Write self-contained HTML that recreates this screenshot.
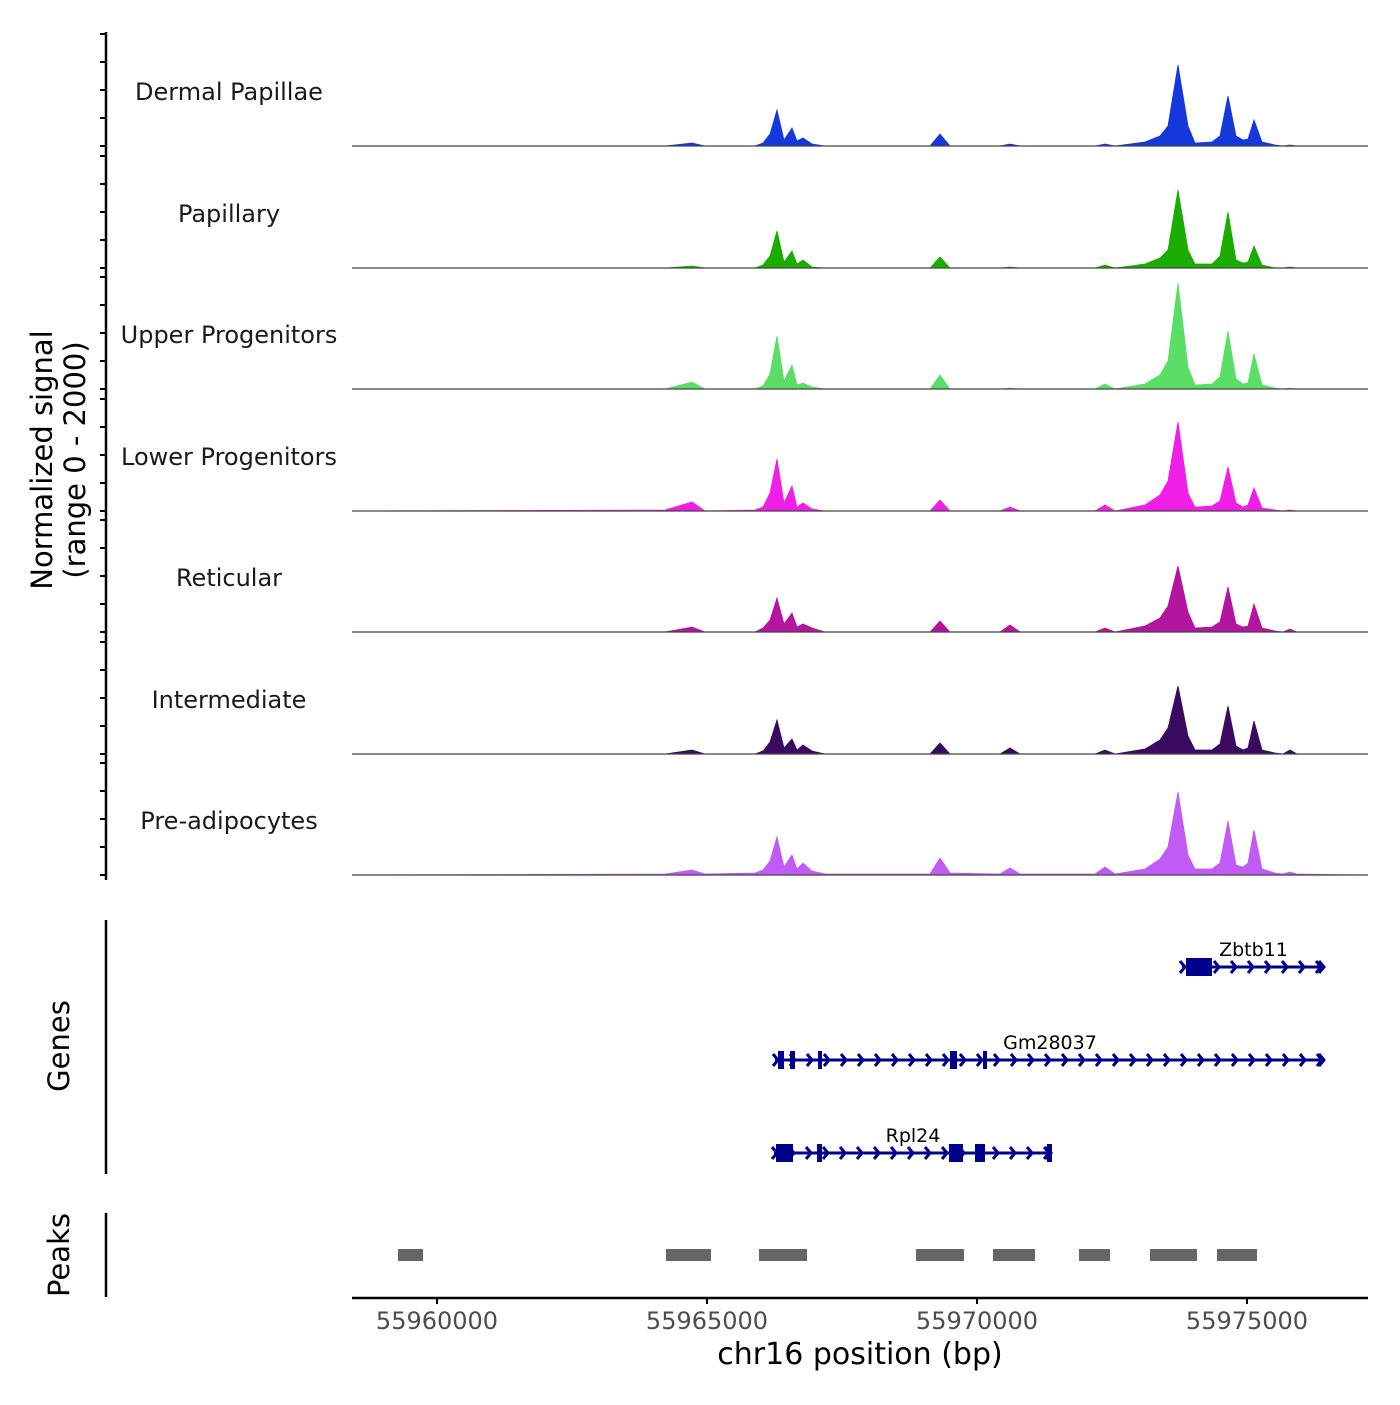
<!DOCTYPE html>
<html><head><meta charset="utf-8"><style>
body{margin:0;background:#fff;}
svg text{font-family:"DejaVu Sans","Liberation Sans",sans-serif;}
</style></head><body>
<svg id="chart" width="1400" height="1400" xmlns="http://www.w3.org/2000/svg">
<g id="axes"></g>
<g id="tracks"></g>
<g id="genes"></g>
<g id="peaks"></g>
</svg>
<script>
const trackNames = ["Dermal Papillae","Papillary","Upper Progenitors","Lower Progenitors","Reticular","Intermediate","Pre-adipocytes"];
const trackColors = ["#1438dc","#1aad00","#5ade66","#f01ee6","#b4159f","#3a0a60","#c05cf5"];
const positions = [55958426,55964222,55964722,55964963,55965889,55966037,55966167,55966296,55966426,55966574,55966667,55966778,55966944,55967185,55969130,55969315,55969500,55970426,55970611,55970796,55972185,55972370,55972556,55973111,55973389,55973537,55973722,55973907,55974037,55974352,55974500,55974648,55974796,55974926,55975019,55975130,55975278,55975519,55975667,55975796,55975926,55977241];
const sigDermal = [0,0,3,0,0,3,12,36,6,18,5,8,2,0,0,12,0,0,2,0,0,2,0,4,10,20,81,20,3,4,10,50,10,6,7,26,4,1,0,1,0,0];
const sigPapillary = [0,0,2,0,0,3,12,37,6,17,4,8,1,0,0,11,0,0,1,0,0,3,0,4,10,18,78,18,4,4,12,56,8,5,6,22,3,0,0,1,0,0];
const sigUpper = [0,0,7,0,0,3,15,53,8,24,4,6,2,0,0,14,0,0,1,0,0,5,0,5,14,28,106,22,4,5,12,58,10,5,6,35,4,1,0,1,0,0];
const sigLower = [0,1,9,0,1,4,18,52,8,25,4,8,2,0,0,11,0,0,4,0,0,6,0,6,16,30,89,18,4,5,10,44,8,4,6,23,3,1,0,1,0,0];
const sigReticular = [0,0,5,0,0,4,12,34,8,19,5,8,4,0,0,11,0,0,7,0,0,4,0,6,14,26,66,20,4,5,10,45,8,5,6,28,4,1,0,3,0,0];
const sigIntermediate = [0,0,4,0,0,3,12,34,6,15,4,9,3,0,0,11,0,0,6,0,0,4,0,5,14,26,68,18,4,4,10,48,8,4,6,33,4,1,0,4,0,0];
const sigPreadipo = [0,1,5,1,2,5,14,38,8,20,6,12,4,1,1,17,2,1,7,1,1,8,1,6,16,28,83,20,6,6,12,54,10,8,12,45,6,2,1,3,1,0];
const xTicks = [55960000,55965000,55970000,55975000];
const geneNames = ["Zbtb11","Gm28037","Rpl24"];
const geneStarts = [55973796,55966259,55966241];
const geneEnds = [55976444,55976444,55971389];
const geneExons = [
  [[55973870,55974352]],
  [[55966315,55966426],[55966537,55966630],[55967056,55967130],[55969500,55969630],[55970111,55970148]],
  [[55966278,55966593],[55967037,55967130],[55969481,55969741],[55969963,55970148],[55971296,55971389]]
];
const peakStarts = [55959278,55964241,55965963,55968870,55970296,55971889,55973204,55974444];
const peakEnds = [55959741,55965074,55966852,55969759,55971074,55972463,55974074,55975185];

const NS="http://www.w3.org/2000/svg";
function mk(tag,attrs,parent){const e=document.createElementNS(NS,tag);for(const k in attrs)e.setAttribute(k,attrs[k]);parent.appendChild(e);return e;}
const xs = bp => 437 + (bp-55960000)*0.054;
const yMax = 112;
const baselines = [146,268,389,511,632,754,875];
const series = [sigDermal,sigPapillary,sigUpper,sigLower,sigReticular,sigIntermediate,sigPreadipo];
const ax = document.getElementById('axes'), tr=document.getElementById('tracks');

let l=mk('line',{x1:106,y1:32,x2:106,y2:880,stroke:'#000','stroke-width':2.5},ax);


baselines.forEach((b,i)=>{
  for(let k=0;k<5;k++){const t=mk('line',{x1:100,x2:106,y1:b-28*k,y2:b-28*k,stroke:'#000','stroke-width':2},ax);
    
    }
  const ys = v => b - v/yMax*112;
  let d='M'+xs(positions[0])+','+b;
  series[i].forEach((v,j)=>{d+=' L'+xs(positions[j]).toFixed(1)+','+ys(v).toFixed(1);});
  d+=' L'+xs(positions[positions.length-1])+','+b+' Z';
  const p=mk('path',{d:d,fill:trackColors[i],stroke:trackColors[i],'stroke-width':0.8},tr);
  
  
  const bl=mk('line',{x1:352,x2:1368,y1:b,y2:b,stroke:'#444','stroke-width':1.2},tr);
  
  
  const tx=mk('text',{x:229,y:b-46,'text-anchor':'middle','font-size':24,fill:'#1a1a1a'},tr);
  tx.textContent=trackNames[i];
  
  
});
const yt=mk('text',{transform:'translate(52,460) rotate(-90)','text-anchor':'middle','font-size':29,fill:'#000'},ax);
yt.innerHTML='<tspan x="0" dy="0">Normalized signal</tspan><tspan x="0" dy="33">(range 0 - 2000)</tspan>';



const g=document.getElementById('genes');
let ga=mk('line',{x1:106,y1:920,x2:106,y2:1174,stroke:'#000','stroke-width':2.5},g);


let gt=mk('text',{transform:'translate(69,1046) rotate(-90)','text-anchor':'middle','font-size':29},g);
gt.textContent='Genes';


const rowsY=[967,1060,1153];
const gc='#00008b';
geneNames.forEach((n,i)=>{
  const y=rowsY[i], x1=xs(geneStarts[i]), x2=xs(geneEnds[i]);
  const grp=mk('g',{},g);
  
  
  mk('line',{x1:x1,x2:x2,y1:y,y2:y,stroke:gc,'stroke-width':3},grp);
  let d='';
  for(let x=x1+3;x<=x2-2;x+=17){d+='M'+(x-5)+','+(y-6)+' L'+x+','+y+' L'+(x-5)+','+(y+6)+' ';}
  d+='M'+(x2-6)+','+(y-6)+' L'+(x2-1)+','+y+' L'+(x2-6)+','+(y+6);
  mk('path',{d:d,fill:'none',stroke:gc,'stroke-width':3},grp);
  geneExons[i].forEach(e=>{
    const a=xs(e[0]),bb=xs(e[1]);
    mk('rect',{x:a,y:y-9,width:Math.max(bb-a,4),height:18,fill:gc},grp);
  });
  const t=mk('text',{x:(x1+x2)/2,y:y-11,'text-anchor':'middle','font-size':19,fill:'#000'},grp);
  t.textContent=n;
});

const pk=document.getElementById('peaks');
let pa=mk('line',{x1:106,y1:1213,x2:106,y2:1297,stroke:'#000','stroke-width':2.5},pk);


let pt=mk('text',{transform:'translate(69,1255) rotate(-90)','text-anchor':'middle','font-size':29},pk);
pt.textContent='Peaks';


peakStarts.forEach((s,i)=>{
  const r=mk('rect',{x:xs(s),y:1249,width:xs(peakEnds[i])-xs(s),height:12,fill:'#666'},pk);
  
  
});

let xa=mk('line',{x1:352,x2:1368,y1:1298,y2:1298,stroke:'#000','stroke-width':2.5},ax);


xTicks.forEach(v=>{
  const t=mk('line',{x1:xs(v),x2:xs(v),y1:1298,y2:1304,stroke:'#000','stroke-width':2},ax);
  
  
  const lb=mk('text',{x:xs(v),y:1329,'text-anchor':'middle','font-size':24,fill:'#4d4d4d'},ax);
  lb.textContent=v;
  
  
});
const xt=mk('text',{x:860,y:1364,'text-anchor':'middle','font-size':30,fill:'#000'},ax);
xt.textContent='chr16 position (bp)';


</script>
</body></html>
